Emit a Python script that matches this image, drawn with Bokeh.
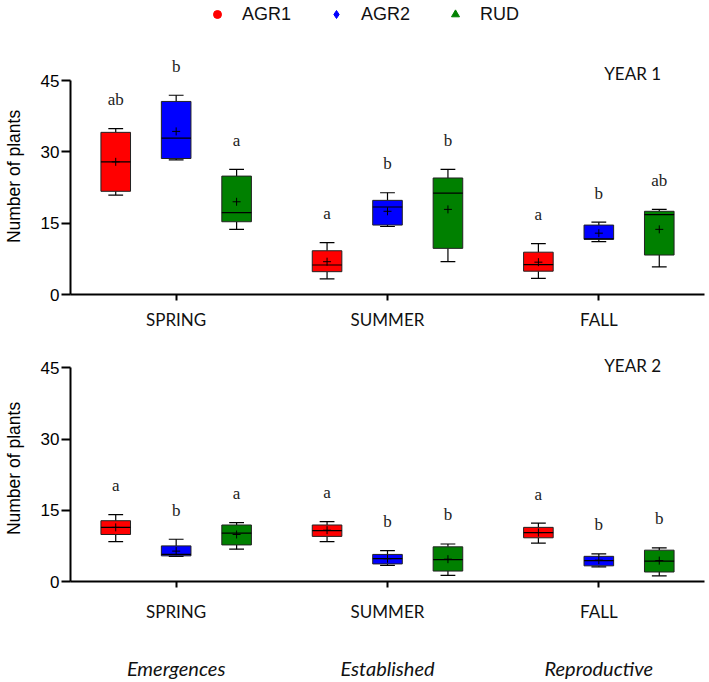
from bokeh.plotting import figure
from bokeh.models import (ColumnDataSource, FactorRange, Range1d, Legend, LegendItem,
                          CategoricalAxis, FixedTicker, Label)
from bokeh.transform import dodge
from bokeh.layouts import column
from bokeh.core.properties import value
from bokeh.embed import file_html
from bokeh.resources import INLINE

seasons = ["SPRING", "SUMMER", "FALL"]
stages = ["Emergences", "Established", "Reproductive"]
groups = ["AGR1", "AGR2", "RUD"]
y_ticks = [0, 15, 30, 45]

# Each list runs season by season (SPRING, SUMMER, FALL), AGR1 / AGR2 / RUD inside each season.
y1_low = [20.9, 28.3, 13.7, 3.3, 14.3, 6.9, 3.4, 11.1, 5.8]
y1_q1 = [21.7, 28.6, 15.3, 4.8, 14.6, 9.7, 4.9, 11.6, 8.3]
y1_median = [27.9, 32.9, 17.2, 6.2, 18.4, 21.3, 6.3, 11.7, 16.8]
y1_q3 = [34.1, 40.6, 24.9, 9.2, 19.8, 24.5, 8.9, 14.6, 17.5]
y1_high = [34.9, 41.9, 26.3, 10.9, 21.4, 26.3, 10.7, 15.2, 17.9]
y1_mean = [27.9, 34.3, 19.5, 6.9, 17.5, 17.9, 6.8, 12.9, 13.7]
y1_letters = ["ab", "b", "a", "a", "b", "b", "a", "b", "ab"]

y2_low = [8.4, 5.3, 6.8, 8.4, 3.4, 1.3, 8.1, 3.1, 1.2]
y2_q1 = [9.9, 5.4, 7.7, 9.5, 3.7, 2.2, 9.2, 3.3, 2.0]
y2_median = [11.4, 5.7, 10.2, 10.7, 4.8, 4.6, 10.3, 4.4, 4.3]
y2_q3 = [12.8, 7.5, 11.9, 11.9, 5.7, 7.3, 11.4, 5.3, 6.6]
y2_high = [14.1, 8.9, 12.4, 12.6, 6.5, 7.9, 12.3, 5.8, 7.1]
y2_mean = [11.4, 6.4, 9.9, 10.8, 4.8, 4.7, 10.3, 4.5, 4.4]
y2_letters = ["a", "b", "a", "a", "b", "b", "a", "b", "b"]

COLORS = {"AGR1": "#ff0000", "AGR2": "#0000ff", "RUD": "#008000"}
MARKERS = {"AGR1": "circle", "AGR2": "diamond", "RUD": "triangle"}
OFFSETS = {"AGR1": -0.286, "AGR2": 0.0, "RUD": 0.286}
BOX_W = 0.14
CAP_W = 0.035

SANS = "Liberation Sans"
CAL = "Lato"
SERIF = "Liberation Serif"


def make_panel(title, low, q1, median, q3, high, mean, letters,
               height, top, bottom, y_end, title_y, label_standoff):
    p = figure(width=709, height=height, x_range=FactorRange(*seasons, range_padding=0),
               y_range=Range1d(0, y_end), output_backend="svg", toolbar_location=None,
               min_border_left=64, min_border_right=5, min_border_top=top,
               min_border_bottom=bottom)
    p.outline_line_color = None
    p.xgrid.grid_line_color = None
    p.ygrid.grid_line_color = None
    p.background_fill_color = "white"
    p.border_fill_color = "white"

    ya = p.yaxis[0]
    ya.ticker = FixedTicker(ticks=y_ticks)
    ya.bounds = (0, 45)
    ya.axis_line_width = 2
    ya.major_tick_line_width = 2
    ya.major_tick_out = 9
    ya.major_tick_in = 0
    ya.minor_tick_line_color = None
    ya.major_label_standoff = 2
    ya.major_label_text_font = SANS
    ya.major_label_text_font_size = "17px"
    ya.major_label_text_color = "black"
    ya.axis_label = "Number of plants"
    ya.axis_label_text_font = SANS
    ya.axis_label_text_font_style = "normal"
    ya.axis_label_text_font_size = "17.5px"
    ya.axis_label_text_color = "black"
    ya.axis_label_standoff = 14

    xa = p.xaxis[0]
    xa.axis_line_width = 2
    xa.major_tick_line_width = 2
    xa.major_tick_out = 6
    xa.major_tick_in = 0
    xa.major_label_standoff = label_standoff
    xa.major_label_text_font = CAL
    xa.major_label_text_font_size = "17px"
    xa.major_label_text_color = "#111111"

    for gi, g in enumerate(groups):
        src = ColumnDataSource(dict(
            season=seasons, low=low[gi::3], q1=q1[gi::3], median=median[gi::3],
            q3=q3[gi::3], high=high[gi::3], mean=mean[gi::3], letter=letters[gi::3]))
        off = OFFSETS[g]
        xc = dodge("season", off, range=p.x_range)
        xl = dodge("season", off - CAP_W, range=p.x_range)
        xr = dodge("season", off + CAP_W, range=p.x_range)
        bl = dodge("season", off - BOX_W / 2, range=p.x_range)
        br = dodge("season", off + BOX_W / 2, range=p.x_range)

        # whiskers and their caps
        p.segment(x0=xc, y0="q3", x1=xc, y1="high", source=src, line_color="black", line_width=1.2)
        p.segment(x0=xc, y0="low", x1=xc, y1="q1", source=src, line_color="black", line_width=1.2)
        p.segment(x0=xl, y0="high", x1=xr, y1="high", source=src, line_color="black", line_width=1.2)
        p.segment(x0=xl, y0="low", x1=xr, y1="low", source=src, line_color="black", line_width=1.2)
        # interquartile box
        p.vbar(x=xc, bottom="q1", top="q3", width=BOX_W, source=src, fill_color=COLORS[g],
               line_color="#222222", line_width=1)
        # median and mean
        p.segment(x0=bl, y0="median", x1=br, y1="median", source=src, line_color="black", line_width=1.2)
        p.scatter(x=xc, y="mean", marker="cross", size=8, source=src, line_color="black", line_width=1)
        # significance letters above the upper whisker
        p.text(x=xc, y="high", text="letter", source=src, y_offset=-29, text_align="center",
               text_baseline="middle", text_font=value(SERIF), text_font_size="17px",
               text_color="#222222")

    p.add_layout(Label(x=2.66, y=title_y, text=title, text_align="center", text_baseline="middle",
                       text_font=CAL, text_font_size="17px", text_color="#111111"))
    return p


# legend strip across the top
key = figure(width=709, height=26, x_range=Range1d(0, 1), y_range=Range1d(0, 1),
             x_axis_type=None, y_axis_type=None, output_backend="svg", toolbar_location=None,
             min_border_left=0, min_border_right=0, min_border_top=0, min_border_bottom=0)
key.outline_line_color = None
key.xgrid.grid_line_color = None
key.ygrid.grid_line_color = None
items = []
for g in groups:
    # a point outside the strip's range keeps the key glyph without drawing anything
    r = key.scatter(x=[-5], y=[-5], marker=MARKERS[g], size=9, fill_color=COLORS[g],
                    line_color=COLORS[g])
    items.append(LegendItem(label=g, renderers=[r]))
legend = Legend(items=items, orientation="horizontal", location=(137, 1),
                glyph_width=20, glyph_height=20, label_height=22, label_standoff=15,
                spacing=35, padding=0, margin=0, border_line_color=None,
                background_fill_alpha=0, label_text_font=SANS, label_text_font_size="18px",
                label_text_color="#111111")
key.add_layout(legend, "center")

top = make_panel("YEAR 1", y1_low, y1_q1, y1_median, y1_q3, y1_high, y1_mean, y1_letters,
                 height=314, top=32, bottom=46, y_end=49.63, title_y=46.5, label_standoff=8)
bottom = make_panel("YEAR 2", y2_low, y2_q1, y2_median, y2_q3, y2_high, y2_mean, y2_letters,
                    height=342, top=15, bottom=101, y_end=47.59, title_y=45.5, label_standoff=13)

# second row of category names under the lower panel
bottom.extra_x_ranges = {"stage": FactorRange(*stages, range_padding=0)}
stage_axis = CategoricalAxis(x_range_name="stage")
stage_axis.axis_line_color = None
stage_axis.major_tick_line_color = None
stage_axis.major_label_standoff = 25
stage_axis.major_label_text_font = CAL
stage_axis.major_label_text_font_style = "italic"
stage_axis.major_label_text_font_size = "20px"
stage_axis.major_label_text_color = "#111111"
bottom.add_layout(stage_axis, "below")

layout = column(key, top, bottom, spacing=0)
open("out.html", "w").write(file_html(layout, INLINE))
